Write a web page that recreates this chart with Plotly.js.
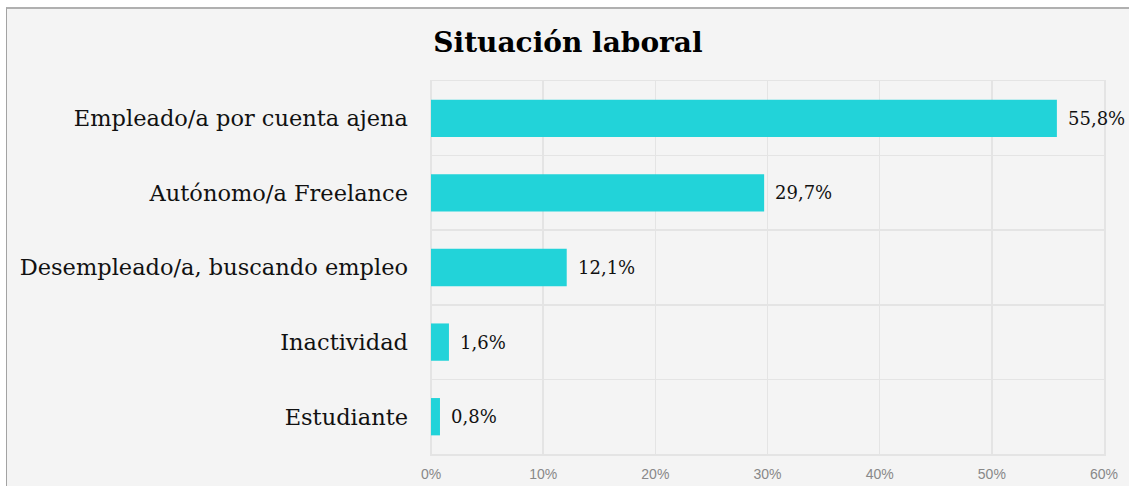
<!DOCTYPE html>
<html>
<head>
<meta charset="utf-8">
<script src="https://cdn.plot.ly/plotly-3.0.1.min.js"></script>
<style>
  html, body { margin: 0; padding: 0; background: #ffffff; }
  #frame { position: absolute; left: 6px; top: 7px; width: 1123px; height: 479px;
           border-left: 1px solid #a3a3a3; border-top: 2px solid #b0b0b0; background: #f4f4f4; }
  #chart { width: 1122px; height: 477px; }
</style>
</head>
<body>
<div id="frame"><div id="chart"></div></div>
<script>
const categories = [
  "Empleado/a por cuenta ajena",
  "Autónomo/a Freelance",
  "Desempleado/a, buscando empleo",
  "Inactividad",
  "Estudiante"
];
const values = [55.8, 29.7, 12.1, 1.6, 0.8];
const xTickVals = [0, 10, 20, 30, 40, 50, 60];
const xTickText = ["0%", "10%", "20%", "30%", "40%", "50%", "60%"];
const titleText = "Situación laboral";

const labelText = values.map(v => v.toFixed(1).replace('.', ',') + '%');

const trace = {
  type: 'bar',
  orientation: 'h',
  x: values,
  y: categories,
  width: 0.5,
  marker: { color: '#22d3d9' },
  hoverinfo: 'none'
};

const annotations = values.map((v, i) => ({
  x: v, y: categories[i], xref: 'x', yref: 'y',
  text: labelText[i], showarrow: false,
  xanchor: 'left', yanchor: 'middle', xshift: 9,
  font: { family: 'DejaVu Serif', size: 18, color: '#111111' }
}));

const gridCol = '#e4e4e4';

const layout = {
  width: 1122, height: 477,
  paper_bgcolor: '#f4f4f4',
  plot_bgcolor: '#f4f4f4',
  margin: { l: 424, r: 25, t: 72, b: 32 },
  showlegend: false,
  title: {
    text: '<b>' + titleText + '</b>',
    xref: 'container', x: 0.5, xanchor: 'center',
    yref: 'container', y: 0.93, yanchor: 'middle',
    font: { family: 'DejaVu Serif', size: 28, color: '#000000' }
  },
  xaxis: {
    range: [0, 60],
    tickvals: xTickVals,
    ticktext: xTickText,
    showgrid: true, gridcolor: gridCol, gridwidth: 1.5,
    zeroline: true, zerolinecolor: gridCol, zerolinewidth: 1.5,
    showline: true, mirror: true, linecolor: gridCol, linewidth: 1.5,
    ticks: '', ticklabelstandoff: 7,
    tickfont: { family: 'Liberation Sans, sans-serif', size: 14, color: '#888888' },
    fixedrange: true
  },
  yaxis: {
    type: 'category',
    autorange: 'reversed',
    showgrid: true, gridcolor: gridCol, gridwidth: 1.5,
    tickson: 'boundaries',
    zeroline: false,
    showline: true, mirror: true, linecolor: gridCol, linewidth: 1.5,
    ticks: '', ticklabelstandoff: 17,
    tickfont: { family: 'DejaVu Serif', size: 22.5, color: '#111111' },
    fixedrange: true
  },
  annotations: annotations
};

Plotly.newPlot('chart', [trace], layout, { displayModeBar: false, staticPlot: true });
</script>
</body>
</html>
